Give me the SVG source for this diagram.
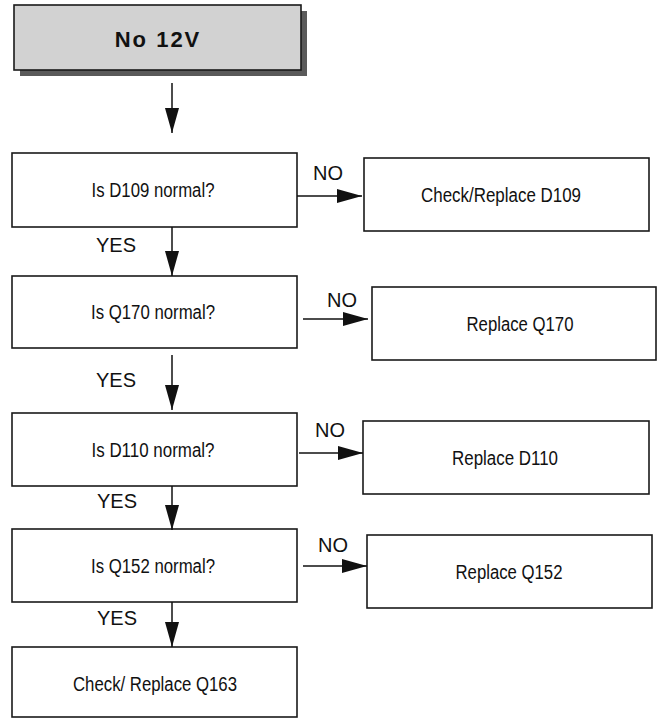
<svg xmlns="http://www.w3.org/2000/svg" width="662" height="719" viewBox="0 0 662 719">
  <style>
    .box { fill: #ffffff; stroke: #1a1a1a; stroke-width: 1.6; }
    .start { fill: #d2d2d2; stroke: #1a1a1a; stroke-width: 1.6; }
    .shadow { fill: #5a5a5a; }
    .body { font-family: "Liberation Sans", Arial, sans-serif; font-size: 20px; fill: #111; text-anchor: middle; }
    .title { font-family: "Liberation Sans", Arial, sans-serif; font-size: 22px; font-weight: bold; fill: #111; text-anchor: middle; letter-spacing: 2px; }
    .lbl { font-family: "Liberation Sans", Arial, sans-serif; font-size: 20px; fill: #111; }
    .flow { fill: none; stroke: #111; stroke-width: 1.5; marker-end: url(#head); }
  </style>
  <defs>
    <marker id="head" markerUnits="userSpaceOnUse" markerWidth="26" markerHeight="14" refX="25" refY="7" orient="auto">
      <path d="M0,0 L25,7 L0,14 Z" fill="#111"/>
    </marker>
  </defs>

  <!-- start -->
  <g id="start">
    <rect class="shadow" x="20" y="11" width="287" height="65"/>
    <rect class="start" x="14" y="5" width="287" height="65"/>
    <text class="title" x="158" y="47">No 12V</text>
  </g>

  <!-- checks, left column -->
  <g id="q-d109">
    <rect class="box" x="12" y="153" width="285" height="74"/>
    <text class="body" x="153" y="197" textLength="123" lengthAdjust="spacingAndGlyphs">Is D109 normal?</text>
  </g>
  <g id="q-q170">
    <rect class="box" x="12" y="276" width="285" height="72"/>
    <text class="body" x="153" y="319" textLength="124" lengthAdjust="spacingAndGlyphs">Is Q170 normal?</text>
  </g>
  <g id="q-d110">
    <rect class="box" x="12" y="413" width="285" height="73"/>
    <text class="body" x="153" y="457" textLength="123" lengthAdjust="spacingAndGlyphs">Is D110 normal?</text>
  </g>
  <g id="q-q152">
    <rect class="box" x="12" y="529" width="285" height="73"/>
    <text class="body" x="153" y="573" textLength="124" lengthAdjust="spacingAndGlyphs">Is Q152 normal?</text>
  </g>
  <g id="fix-q163">
    <rect class="box" x="12" y="647" width="285" height="70"/>
    <text class="body" x="155" y="691" textLength="164" lengthAdjust="spacingAndGlyphs">Check/ Replace Q163</text>
  </g>

  <!-- actions, right column -->
  <g id="fix-d109">
    <rect class="box" x="364" y="158" width="285" height="73"/>
    <text class="body" x="501" y="202" textLength="160" lengthAdjust="spacingAndGlyphs">Check/Replace D109</text>
  </g>
  <g id="fix-q170">
    <rect class="box" x="372" y="287" width="284" height="73"/>
    <text class="body" x="520" y="331" textLength="107" lengthAdjust="spacingAndGlyphs">Replace Q170</text>
  </g>
  <g id="fix-d110">
    <rect class="box" x="363" y="421" width="286" height="73"/>
    <text class="body" x="505" y="465" textLength="106" lengthAdjust="spacingAndGlyphs">Replace D110</text>
  </g>
  <g id="fix-q152">
    <rect class="box" x="367" y="535" width="285" height="73"/>
    <text class="body" x="509" y="579" textLength="107" lengthAdjust="spacingAndGlyphs">Replace Q152</text>
  </g>

  <!-- connectors -->
  <g id="connectors">
    <line class="flow" x1="172" y1="83" x2="172" y2="133"/>
    <line class="flow" x1="172" y1="227" x2="172" y2="276"/>
    <line class="flow" x1="172" y1="355" x2="172" y2="410"/>
    <line class="flow" x1="172" y1="486" x2="172" y2="530"/>
    <line class="flow" x1="172" y1="602" x2="172" y2="647"/>

    <line class="flow" x1="297" y1="196" x2="362" y2="196"/>
    <line class="flow" x1="303" y1="319" x2="368" y2="319"/>
    <line class="flow" x1="299" y1="453" x2="363" y2="453"/>
    <line class="flow" x1="303" y1="566" x2="367" y2="566"/>

    <text class="lbl" x="96" y="252">YES</text>
    <text class="lbl" x="96" y="387">YES</text>
    <text class="lbl" x="97" y="508">YES</text>
    <text class="lbl" x="97" y="625">YES</text>

    <text class="lbl" x="313" y="180">NO</text>
    <text class="lbl" x="327" y="307">NO</text>
    <text class="lbl" x="315" y="437">NO</text>
    <text class="lbl" x="318" y="552">NO</text>
  </g>
</svg>
